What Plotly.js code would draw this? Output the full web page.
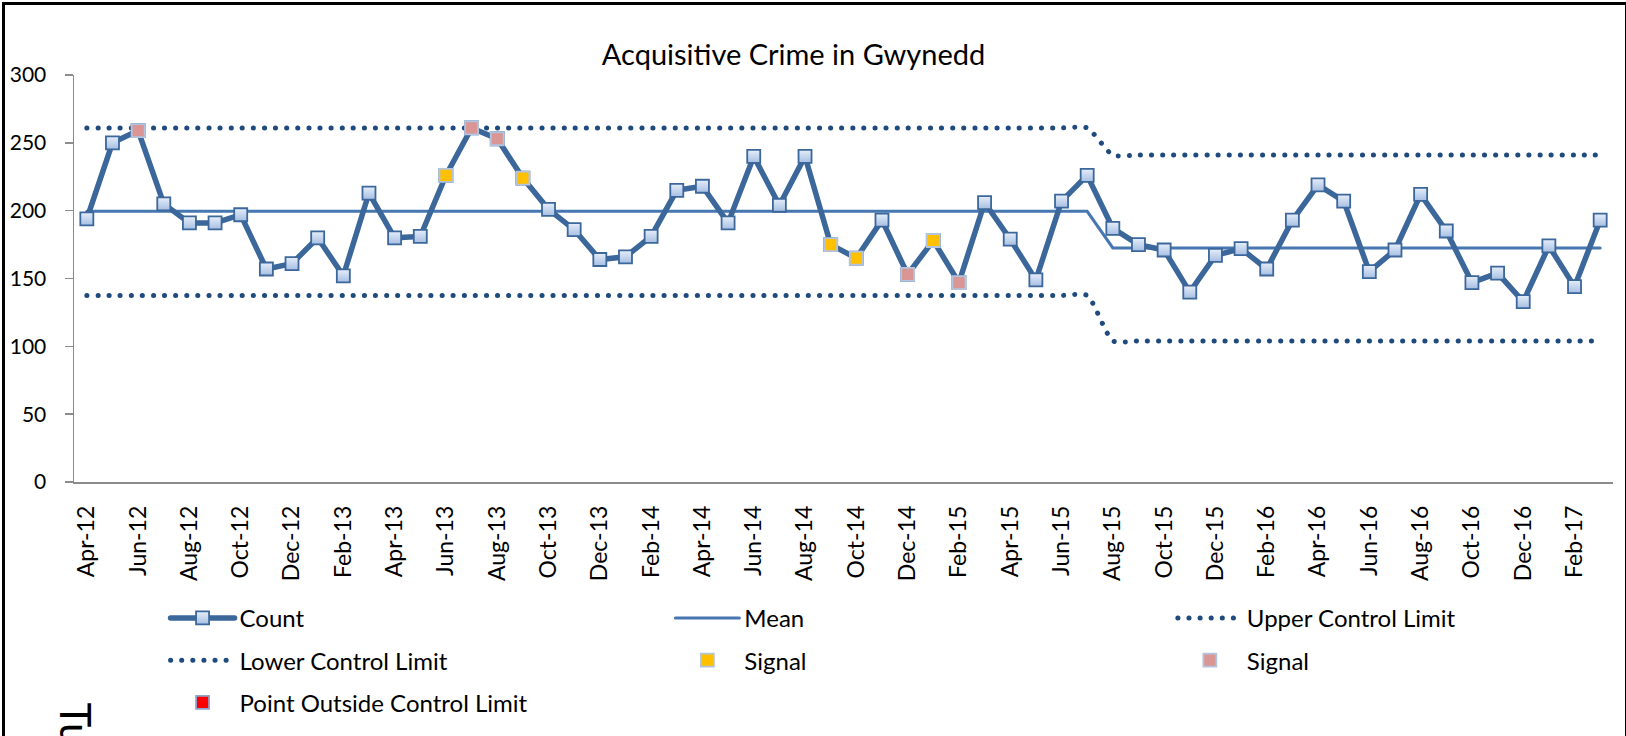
<!DOCTYPE html>
<html>
<head>
<meta charset="utf-8">
<script src="https://cdn.plot.ly/plotly-3.0.1.min.js"></script>
<style>
  body { margin: 0; background: #fff; }
  #plot { position: absolute; left: 0; top: 0; width: 1626px; height: 736px; }
  #frame { position: absolute; left: 2px; top: 2px; width: 1620px; height: 740px;
           border: 3px solid #000; border-bottom: none; pointer-events: none; }
  path.js-line { stroke-linecap: round; }
</style>
</head>
<body>
<div id="plot"></div>
<div id="frame"></div>
<script>
// months, Apr-12 .. Mar-17
let months = ["Apr-12","May-12","Jun-12","Jul-12","Aug-12","Sep-12","Oct-12","Nov-12","Dec-12","Jan-13","Feb-13","Mar-13",
  "Apr-13","May-13","Jun-13","Jul-13","Aug-13","Sep-13","Oct-13","Nov-13","Dec-13","Jan-14","Feb-14","Mar-14",
  "Apr-14","May-14","Jun-14","Jul-14","Aug-14","Sep-14","Oct-14","Nov-14","Dec-14","Jan-15","Feb-15","Mar-15",
  "Apr-15","May-15","Jun-15","Jul-15","Aug-15","Sep-15","Oct-15","Nov-15","Dec-15","Jan-16","Feb-16","Mar-16",
  "Apr-16","May-16","Jun-16","Jul-16","Aug-16","Sep-16","Oct-16","Nov-16","Dec-16","Jan-17","Feb-17","Mar-17"];

let counts = [194,250,259,205,191,191,197,157,161,180,152,213,
  180,181,226,261,253,224,201,186,164,166,181,215,
  218,191,240,204,240,175,165,193,153,178,147,206,
  179,149,207,226,187,175,171,140,167,172,157,193,
  219,207,155,171,212,185,147,154,133,174,144,193];

let mean = [199.5,199.5,199.5,199.5,199.5,199.5,199.5,199.5,199.5,199.5,199.5,199.5,
  199.5,199.5,199.5,199.5,199.5,199.5,199.5,199.5,199.5,199.5,199.5,199.5,
  199.5,199.5,199.5,199.5,199.5,199.5,199.5,199.5,199.5,199.5,199.5,199.5,
  199.5,199.5,199.5,199.5,172.5,172.5,172.5,172.5,172.5,172.5,172.5,172.5,
  172.5,172.5,172.5,172.5,172.5,172.5,172.5,172.5,172.5,172.5,172.5,172.5];

let ucl = [261,261,261,261,261,261,261,261,261,261,261,261,
  261,261,261,261,261,261,261,261,261,261,261,261,
  261,261,261,261,261,261,261,261,261,261,261,261,
  261,261,261,261,241,241,241,241,241,241,241,241,
  241,241,241,241,241,241,241,241,241,241,241,241];

let lcl = [137.5,137.5,137.5,137.5,137.5,137.5,137.5,137.5,137.5,137.5,137.5,137.5,
  137.5,137.5,137.5,137.5,137.5,137.5,137.5,137.5,137.5,137.5,137.5,137.5,
  137.5,137.5,137.5,137.5,137.5,137.5,137.5,137.5,137.5,137.5,137.5,137.5,
  137.5,137.5,137.5,137.5,104,104,104,104,104,104,104,104,
  104,104,104,104,104,104,104,104,104,104,104,104];

// signal points
let signalYellowX = ["Jun-13","Sep-13","Sep-14","Oct-14","Jan-15"];
let signalYellowY = [226,224,175,165,178];
let signalPinkX = ["Jun-12","Jul-13","Aug-13","Dec-14","Feb-15"];
let signalPinkY = [259,261,253,153,147];

let tickLabels = months.filter((m, i) => i % 2 === 0);

let navy = "#1F4A7E";

let countTrace = {
  x: months, y: counts, name: "Count", type: "scatter", mode: "lines+markers",
  line: {color: "#3B679B", width: 5.5},
  marker: {symbol: "square", size: 13, color: "#E6EEF9",
    gradient: {type: "vertical", color: "#A6BEE3"},
    line: {color: "#3B679B", width: 1.8}},
  legend: "legend", legendgroup: "a", legendrank: 1
};
let meanTrace = {
  x: months, y: mean, name: "Mean", type: "scatter", mode: "lines",
  line: {color: "#4677B0", width: 3},
  legend: "legend2", legendgroup: "b", legendrank: 1
};
let uclTrace = {
  x: months, y: ucl, name: "Upper Control Limit", type: "scatter", mode: "lines",
  line: {color: navy, width: 5, dash: "0.1px,11px", shape: "spline", smoothing: 0.6},
  legend: "legend3", legendgroup: "c", legendrank: 1
};
let lclTrace = {
  x: months, y: lcl, name: "Lower Control Limit", type: "scatter", mode: "lines",
  line: {color: navy, width: 5, dash: "0.1px,11px", shape: "spline", smoothing: 0.6},
  legend: "legend", legendgroup: "d", legendrank: 2
};
let sigYellow = {
  x: signalYellowX, y: signalYellowY, name: "Signal", type: "scatter", mode: "markers",
  marker: {symbol: "square", size: 13, color: "#FFC000", line: {color: "#B3C4DE", width: 1.8}},
  legend: "legend2", legendgroup: "e", legendrank: 2
};
let sigPink = {
  x: signalPinkX, y: signalPinkY, name: "Signal", type: "scatter", mode: "markers",
  marker: {symbol: "square", size: 13, color: "#D99694", line: {color: "#B3C4DE", width: 1.8}},
  legend: "legend3", legendgroup: "f", legendrank: 2
};
let outside = {
  x: [null], y: [null], name: "Point Outside Control Limit", type: "scatter", mode: "markers",
  marker: {symbol: "square", size: 13, color: "#FF0000", line: {color: "#8EA6CC", width: 1.8}},
  legend: "legend", legendgroup: "g", legendrank: 3
};

let data = [uclTrace, lclTrace, meanTrace, countTrace, sigYellow, sigPink, outside];

let legendBase = {
  xref: "paper", yref: "paper", yanchor: "top", xanchor: "left",
  orientation: "v", itemwidth: 64, tracegroupgap: 8,
  font: {family: "Lato, sans-serif", size: 24, color: "#000"},
  bgcolor: "rgba(0,0,0,0)", borderwidth: 0, itemclick: false
};

let layout = {
  width: 1626, height: 736,
  paper_bgcolor: "#fff", plot_bgcolor: "#fff",
  font: {family: "Lato, sans-serif", size: 21, color: "#000"},
  title: {text: "Acquisitive Crime in Gwynedd", font: {size: 29, color: "#000"},
    xref: "container", yref: "container", x: 0.488, xanchor: "center", y: 0.926, yanchor: "middle"},
  margin: {l: 74, r: 13, t: 75, b: 253},
  xaxis: {
    type: "category", range: [-0.5, 59.5],
    tickmode: "array", tickvals: tickLabels, ticktext: tickLabels,
    tickangle: -90, ticks: "", ticklabelstandoff: 13, tickfont: {size: 23},
    showline: true, linecolor: "#8C8C8C", linewidth: 1.5,
    showgrid: false, zeroline: false, fixedrange: true
  },
  yaxis: {
    range: [0, 300], dtick: 50, ticks: "outside", ticklen: 8, tickcolor: "#8C8C8C", tickwidth: 1.5,
    ticklabelstandoff: 14,
    showline: true, linecolor: "#8C8C8C", linewidth: 1.5,
    showgrid: false, zeroline: false, fixedrange: true
  },
  legend: Object.assign({}, legendBase, {x: 0.0595, y: -0.2766}),
  legend2: Object.assign({}, legendBase, {x: 0.3875, y: -0.2766}),
  legend3: Object.assign({}, legendBase, {x: 0.714, y: -0.2766}),
  annotations: [{
    text: "Tu", textangle: 90, showarrow: false,
    xref: "paper", yref: "paper", x: 0.0016, y: -0.538, xanchor: "center", yanchor: "top",
    font: {size: 42, color: "#000"}
  }]
};

Plotly.newPlot("plot", data, layout, {displayModeBar: false, staticPlot: true});
</script>
</body>
</html>
